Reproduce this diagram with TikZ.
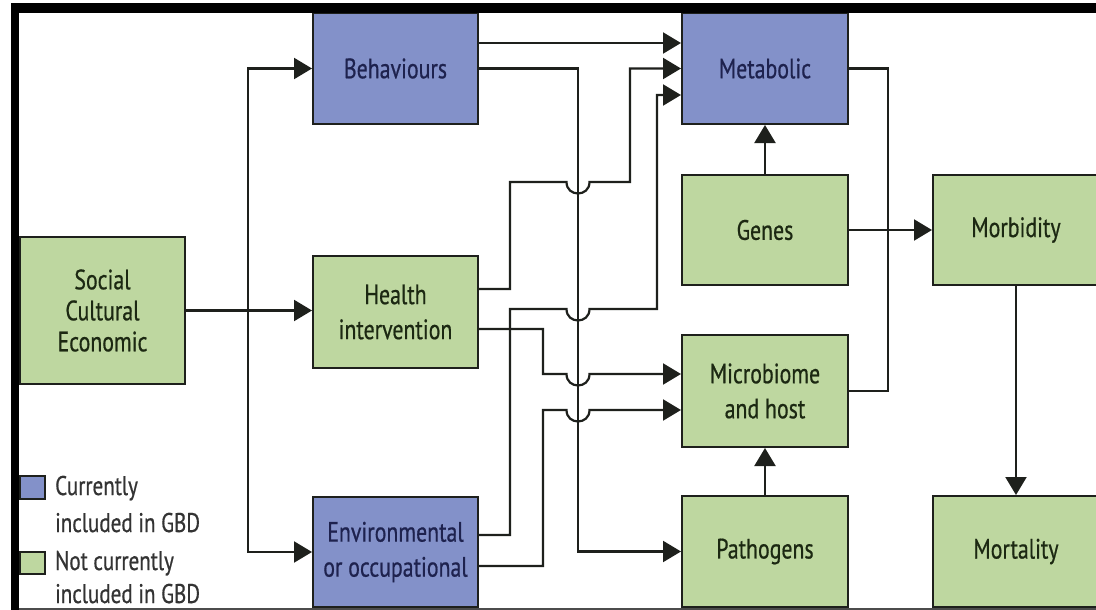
\documentclass[tikz,border=0pt]{standalone}
\usepackage{fontspec}
\setmainfont{PT Sans}[FakeStretch=0.78,FakeBold=0.6]
\usetikzlibrary{arrows.meta}
\definecolor{gbdblue}{RGB}{131,145,201}
\definecolor{gbdgreen}{RGB}{190,215,160}
\definecolor{lineclr}{RGB}{30,32,28}
\definecolor{bluetext}{RGB}{30,34,78}
\definecolor{greentext}{RGB}{28,40,18}
\newcommand{\hop}[2]{-- (#1-11.5,#2) .. controls (#1-11.5,#2+15.3) and (#1+11.5,#2+15.3) .. (#1+11.5,#2)}

\begin{document}
\begin{tikzpicture}[x=1pt,y=-1pt,
		box/.style={draw=lineclr,line width=2pt,minimum width=165pt,minimum height=111pt,inner sep=0pt,align=center,font=\fontsize{28}{35}\selectfont},
		inbd/.style={box,fill=gbdblue,text=bluetext},
		notbd/.style={box,fill=gbdgreen,text=greentext},
		arr/.style={draw=lineclr,line width=2.2pt,-{Triangle[length=18pt,width=21pt]}},
		link/.style={draw=lineclr,line width=2.2pt},
		legend/.style={anchor=base west,inner sep=0pt,text=black!80,font=\fontsize{27}{30}\selectfont}]
		\useasboundingbox (0,0) rectangle (1096,610);
		\fill[white] (0,0) rectangle (1096,610);

		\node[notbd,minimum height=147pt,font=\fontsize{28}{31}\selectfont] (social) at (102.5,310.5) {Social\\Cultural\\Economic};
		\node[inbd] (behav) at (395.5,68.5) {Behaviours};
		\node[notbd,minimum height=112pt] (health) at (395.5,312) {Health\\intervention};
		\node[inbd,minimum height=110pt] (env) at (395.5,552) {Environmental\\or occupational};
		\node[inbd,minimum width=166pt] (metab) at (765,68.5) {Metabolic};
		\node[notbd,minimum width=166pt,minimum height=110pt] (genes) at (765,230) {Genes};
		\node[notbd,minimum width=166pt,minimum height=112pt] (micro) at (765,391) {Microbiome\\and host};
		\node[notbd,minimum width=166pt] (patho) at (765,551.5) {Pathogens};
		\node[notbd,minimum width=166pt,minimum height=110pt] (morb) at (1016,230) {Morbidity};
		\node[notbd,minimum width=166pt] (mort) at (1016,551.5) {Mortality};

		\coordinate (trunk) at (248,310.5);
		\draw[arr] (social.east) -- (social.east -| health.west);
		\draw[arr] (trunk) |- (behav.west);
		\draw[arr] (trunk) |- (env.west);

		\draw[link] (578,68.5) -- (578,551.5);
		\draw[arr] ([yshift=25.5pt]behav.east) -- ([yshift=25.5pt]metab.west);
		\draw[arr] (behav.east) -| (578,551.5) -- (patho.west);
		\draw[arr] ([yshift=23pt]health.east) -| (510,182) \hop{578}{182} -- (630,182) |- (metab.west);
		\draw[arr] ([yshift=-17pt]health.east) -| (543,374) \hop{578}{374} -- ([yshift=17pt]micro.west);
		\draw[arr] ([yshift=17pt]env.east) -| (510,309) \hop{578}{309} -- (657,309) |- ([yshift=-26.5pt]metab.west);
		\draw[arr] ([yshift=-14pt]env.east) -| (543,410) \hop{578}{410} -- ([yshift=-19pt]micro.west);

		\draw[arr] (genes.north) -- (metab.south);
		\draw[arr] (patho.north) -- (micro.south);
		\draw[arr] (genes.east) -- (morb.west);
		\draw[link] (metab.east) -| (888,391) -- (micro.east);
		\draw[arr] (morb.south) -- (mort.north);

		\filldraw[fill=gbdblue,draw=lineclr,line width=1.5pt] (20,476) rectangle (45,499);
		\node[legend] (inlab) at (55,495) {Currently};
		\node[legend] (inlabb) at (55,532) {included in GBD};
		\filldraw[fill=gbdgreen,draw=lineclr,line width=1.5pt] (20,552) rectangle (45,574);
		\node[legend] (outlab) at (55,570) {Not currently};
		\node[legend] (outlabb) at (55,603) {included in GBD};

		\fill[black] (11,3) rectangle (1096,12.6);
		\fill[black] (11,3) rectangle (19,610);
		\draw[black!70,line width=1.5pt] (19,609) -- (1096,609);
	\end{tikzpicture}
\end{document}
